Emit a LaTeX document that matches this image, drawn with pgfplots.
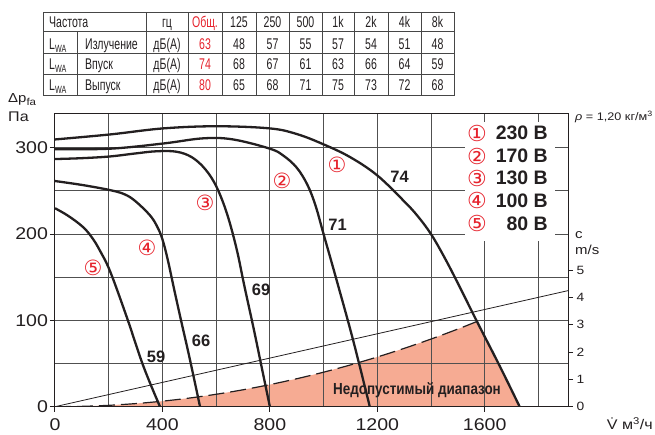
\documentclass[border=0pt]{standalone}
\usepackage{pgfplots}
\pgfplotsset{compat=1.18}
\usepackage{fontspec}
\setmainfont{Liberation Sans}
\newfontfamily\cond[FakeStretch=0.68]{Liberation Sans}
\newfontfamily\condb[FakeStretch=0.84]{Liberation Sans}
\newfontfamily\wide[FakeStretch=1.15]{Liberation Sans}
\newfontfamily\dejavu{DejaVu Sans}
\definecolor{ink}{RGB}{35,31,32}
\definecolor{myred}{RGB}{230,35,45}
\definecolor{fillc}{RGB}{246,171,147}
\definecolor{gridc}{RGB}{80,80,80}
\definecolor{tabc}{RGB}{70,70,70}
\newcommand\fs[1]{\fontsize{#1}{#1}\selectfont}
\newcommand\lwa{L\raisebox{-0.35ex}{\fs{10.5}WA}}
\pgfplotsset{base/.style={
  at={(55pt,27.3pt)}, anchor=south west,
  scale only axis, width=513pt, height=293.4pt,
  xmin=0, xmax=1910}}
\begin{document}
\begin{tikzpicture}[x=1pt,y=1pt]
\useasboundingbox (0,0) rectangle (655,434);
% forbidden range (fill), drawn below the grid
\begin{axis}[base, ymin=0, ymax=340, hide axis]
\addplot[fill=fillc, draw=none] coordinates {
 (0,0) (100,0.4) (200,1.6) (300,3.6) (400,6.4) (500,10) (600,14.4) (700,19.6)
 (800,25.6) (900,32.4) (1000,40) (1100,48.4) (1200,57.6) (1300,67.6) (1400,78.4)
 (1500,90) (1570,98.6) (1600,81.5) (1656,47) (1730,0)} \closedcycle;
\end{axis}
\begin{axis}[
  base, ymin=0, ymax=340,
  xtick={0,400,800,1200,1600}, minor xtick={200,600,1000,1400,1800},
  ytick={0,100,200,300}, minor ytick={50,150,250},
  xtick pos=left, ytick pos=left,
  tick align=outside, major tick length=5pt, minor tick length=0pt,
  grid=both,
  major grid style={gridc, line width=1pt},
  minor grid style={gridc, line width=1pt},
  axis line style={ink, line width=1pt},
  tick style={ink, line width=1pt},
  ticklabel style={font=\wide\fs{17}, text=ink},
  xticklabel style={yshift=-3.5pt},
  yticklabel style={xshift=1.5pt},
  /pgf/number format/assume math mode=true,
  /pgf/number format/1000 sep={},
]
% system curve (dashed)
\addplot[ink, line width=1.2pt, dash pattern=on 16pt off 6pt, smooth] coordinates {
 (0,0) (100,0.4) (200,1.6) (300,3.6) (400,6.4) (500,10) (600,14.4) (700,19.6)
 (800,25.6) (900,32.4) (1000,40) (1100,48.4) (1200,57.6) (1300,67.6) (1400,78.4)
 (1500,90) (1570,98.6)};
% velocity line
\addplot[ink, line width=0.8pt] coordinates {(0,0) (1910,134.5)};
% curve 1 (230 V)
\addplot[ink, line width=2.3pt, smooth, tension=0.6] coordinates {
 (0,309.7) (205,315.5) (403,322.5) (602,325) (800,322.5) (900,316) (1000,304)
 (1100,289) (1200,268) (1300,238) (1350,221) (1400,200) (1450,173) (1500,143)
 (1569,100) (1656,47) (1730,0)};
% curve 2 (170 V)
\addplot[ink, line width=2.3pt, smooth, tension=0.6] coordinates {
 (0,298.4) (205,299) (403,305) (552,311) (663,309.7) (800,299) (850,291) (900,277)
 (940,257) (970,233) (1000,200) (1050,145) (1110,77) (1172,0)};
% curve 3 (130 V)
\addplot[ink, line width=2.3pt, smooth, tension=0.6] coordinates {
 (0,287) (100,288) (205,290) (300,293.5) (378,296) (452,295.5) (510,289) (560,275)
 (601,255) (640,224) (676,183) (705,140) (740,90) (770,45) (800,0)};
% curve 4 (100 V)
\addplot[ink, line width=2.3pt, smooth, tension=0.6] coordinates {
 (0,261.5) (100,257) (205,251) (260,246) (300,238) (353,222) (380,209) (400,194)
 (420,170) (445,134) (470,99) (500,58) (540,0)};
% curve 5 (80 V)
\addplot[ink, line width=2.3pt, smooth, tension=0.6] coordinates {
 (0,230) (50,221) (105,208) (140,195) (167,181) (205,157) (267,104) (329,47) (391,0)};
\end{axis}
% right velocity scale
\begin{axis}[
  base, ymin=0, ymax=10.73,
  axis x line=none, axis y line*=right,
  ytick={0,1,2,3,4,5},
  tick align=outside, major tick length=5pt,
  tick style={ink, line width=0.8pt},
  axis line style={ink, line width=1pt},
  ticklabel style={font=\wide\fs{12}, text=ink},
  /pgf/number format/assume math mode=true,
]
\addplot[draw=none] coordinates {(0,0) (1910,10)};
\end{axis}
% legend box
\fill[white] (465,193) rectangle (555,312);
\foreach \y/\n/\v in {300.7/①/230 В, 278/②/170 В, 255.7/③/130 В, 233.3/④/100 В, 210.7/⑤/80 В}{
  \node[text=myred, font=\dejavu\fs{22}, inner sep=0] at (477,\y) {\n};
  \node[anchor=east, text=ink, font=\bfseries\fs{19.5}, inner sep=0] at (548,\y) {\v};
}
% circled labels on curves
\node[text=myred, font=\dejavu\fs{21}] at (337,269) {①};
\node[text=myred, font=\dejavu\fs{21}] at (282,253) {②};
\node[text=myred, font=\dejavu\fs{21}] at (205,231) {③};
\node[text=myred, font=\dejavu\fs{21}] at (147,186) {④};
\node[text=myred, font=\dejavu\fs{21}] at (93,166) {⑤};
% sound levels
\foreach \x/\y/\t in {399.5/257.5/74, 337.5/209/71, 261/144/69, 201/93/66, 156/77.5/59}{
  \node[text=ink, font=\bfseries\fs{16.5}] at (\x,\y) {\t};
}
\node[text=ink, font=\condb\bfseries\fs{16}] at (417,44) {Недопустимый диапазон};
% axis texts
\node[anchor=base west, text=ink, font=\wide\fs{13}, inner sep=0] at (8,331) {Δp\raisebox{-0.35ex}{\fs{10}fa}};
\node[anchor=base west, text=ink, font=\wide\fs{14}, inner sep=0] at (8,312) {Па};
\node[anchor=west, text=ink, font=\wide\fs{11}, inner sep=0] at (575,317) {\textit{ρ} = 1,20 кг/м\textsuperscript{3}};
\node[anchor=west, text=ink, font=\wide\fs{13}, inner sep=0] at (575,199) {c};
\node[anchor=west, text=ink, font=\wide\fs{13}, inner sep=0] at (575,184.5) {m/s};
\node[anchor=base east, text=ink, font=\wide\fs{14}, inner sep=0] at (653,4.5) {\.{V} м\textsuperscript{3}/ч};
% table
\begin{scope}[draw=tabc, line width=0.9pt]
\draw (43,339) rectangle (454,421.3);
\foreach \yy in {402.3,380.7,360} \draw (43,\yy)--(454,\yy);
\foreach \xx in {146,188,222,256,289,322,354,388,421} \draw (\xx,339)--(\xx,421.3);
\draw (77,339)--(77,402.3);
\end{scope}
\begin{scope}[every node/.style={text=ink, font=\cond\fs{15.5}, inner sep=0, anchor=base}]
\node[anchor=base west] at (49,406) {Частота};
\node at (167,406) {гц};
\node[text=myred] at (205,406) {Общ.};
\foreach \xx/\t in {239/125,272.5/250,305.5/500,338/1k,371/2k,404.5/4k,437.5/8k} \node at (\xx,406) {\t};
\foreach \yy/\name/\tot/\a/\b/\c/\d/\e/\f/\g in {
  384.7/Излучение/63/48/57/55/57/54/51/48,
  364/Впуск/74/68/67/61/63/66/64/59,
  343/Выпуск/80/65/68/71/75/73/72/68}{
  \node[anchor=base west] at (49,\yy) {\lwa};
  \node[anchor=base west] at (85,\yy) {\name};
  \node at (167,\yy) {дБ(A)};
  \node[text=myred] at (205,\yy) {\tot};
  \node at (239,\yy) {\a};
  \node at (272.5,\yy) {\b};
  \node at (305.5,\yy) {\c};
  \node at (338,\yy) {\d};
  \node at (371,\yy) {\e};
  \node at (404.5,\yy) {\f};
  \node at (437.5,\yy) {\g};
}
\end{scope}
\end{tikzpicture}
\end{document}
